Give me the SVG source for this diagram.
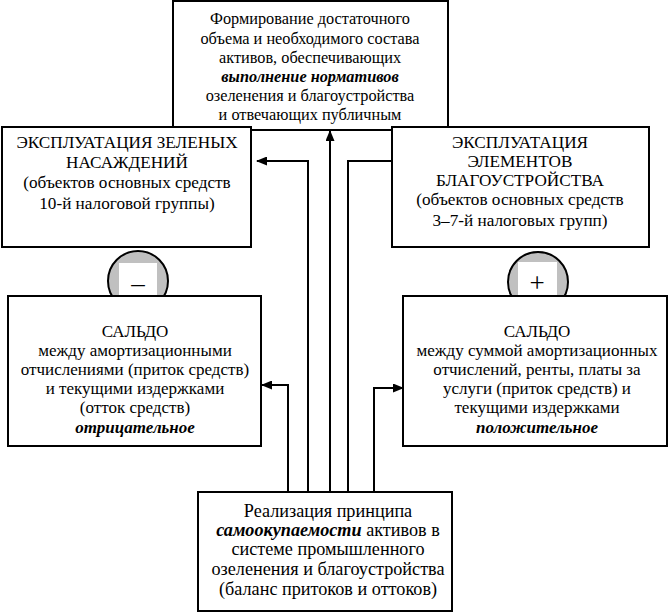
<svg xmlns="http://www.w3.org/2000/svg" width="669" height="614" viewBox="0 0 669 614">
<style>
.box{fill:#fff;stroke:#000;stroke-width:2}
.t{font-family:"Liberation Serif","Times New Roman","DejaVu Serif",serif;fill:#000;text-anchor:middle}
.s1{font-size:16.3px}
.s2{font-size:17.2px}
.s3{font-size:17px}
.s4{font-size:18.2px}
.sg{font-size:27px}
.bi{font-weight:bold;font-style:italic}
.c{fill:none;stroke:#000;stroke-width:2}
.circ{fill:#c0c0c0;stroke:#000;stroke-width:2}
</style>
<defs>
<marker id="ah" markerUnits="userSpaceOnUse" markerWidth="11" markerHeight="9" refX="10" refY="4.5" orient="auto">
<path d="M0,0 L11,4.5 L0,9 Z" fill="#000"/>
</marker>
</defs>
<rect width="669" height="614" fill="#fff"/>
<g id="top">
<rect class="box" x="173" y="1" width="275" height="129"/>
<text class="t s1" x="310" y="24">Формирование достаточного</text>
<text class="t s1" x="310" y="44">объема и необходимого состава</text>
<text class="t s1" x="310" y="63">активов, обеспечивающих</text>
<text class="t s1 bi" x="310" y="82">выполнение нормативов</text>
<text class="t s1" x="310" y="101">озеленения и благоустройства</text>
<text class="t s1" x="310" y="120">и отвечающих публичным</text>
</g>
<g id="green">
<rect class="box" x="2" y="127" width="249" height="120"/>
<text class="t s2" x="127" y="148">ЭКСПЛУАТАЦИЯ ЗЕЛЕНЫХ</text>
<text class="t s2" x="127" y="168">НАСАЖДЕНИЙ</text>
<text class="t s2" x="127" y="188">(объектов основных средств</text>
<text class="t s2" x="127" y="209">10-й налоговой группы)</text>
</g>
<g id="elements">
<rect class="box" x="392" y="127" width="257" height="120"/>
<text class="t s2" x="520" y="148">ЭКСПЛУАТАЦИЯ</text>
<text class="t s2" x="520" y="167">ЭЛЕМЕНТОВ</text>
<text class="t s2" x="520" y="186">БЛАГОУСТРОЙСТВА</text>
<text class="t s2" x="520" y="205">(объектов основных средств</text>
<text class="t s2" x="520" y="226">3–7-й налоговых групп)</text>
</g>
<g id="minus">
<circle class="circ" cx="138" cy="281" r="30"/>
<rect x="119" y="263" width="38" height="34" fill="#fff"/>
<text class="t sg" x="138" y="292">–</text>
</g>
<g id="plus">
<circle class="circ" cx="538" cy="282" r="30"/>
<rect x="518" y="262" width="39" height="35" fill="#fff"/>
<text class="t sg" x="537" y="292">+</text>
</g>
<g id="saldo-neg">
<rect class="box" x="8" y="296" width="253" height="150"/>
<text class="t s3" x="135" y="337">САЛЬДО</text>
<text class="t s3" x="135" y="356">между амортизационными</text>
<text class="t s3" x="135" y="375">отчислениями (приток средств)</text>
<text class="t s3" x="135" y="394">и текущими издержками</text>
<text class="t s3" x="135" y="413">(отток средств)</text>
<text class="t s3 bi" x="135" y="433">отрицательное</text>
</g>
<g id="saldo-pos">
<rect class="box" x="403" y="296" width="264" height="150"/>
<text class="t s3" x="537" y="337">САЛЬДО</text>
<text class="t s3" x="537" y="356">между суммой амортизационных</text>
<text class="t s3" x="537" y="375">отчислений, ренты, платы за</text>
<text class="t s3" x="537" y="394">услуги (приток средств) и</text>
<text class="t s3" x="537" y="413">текущими издержками</text>
<text class="t s3 bi" x="537" y="433">положительное</text>
</g>
<g id="bottom">
<rect class="box" x="198" y="492" width="254" height="119"/>
<text class="t s4" x="328" y="517">Реализация принципа</text>
<text class="t s4" x="328" y="536"><tspan class="bi">самоокупаемости</tspan> активов в</text>
<text class="t s4" x="328" y="555">системе промышленного</text>
<text class="t s4" x="328" y="575">озеленения и благоустройства</text>
<text class="t s4" x="328" y="595">(баланс притоков и оттоков)</text>
</g>
<g id="connectors">
<polyline class="c" points="330,491 330,131" marker-end="url(#ah)"/>
<polyline class="c" points="308,491 308,161 257,161" marker-end="url(#ah)"/>
<polyline class="c" points="348,491 348,161 392,161"/>
<polyline class="c" points="288,491 288,385 262,385" marker-end="url(#ah)"/>
<polyline class="c" points="374,491 374,388 403,388" marker-end="url(#ah)"/>
</g>
</svg>
